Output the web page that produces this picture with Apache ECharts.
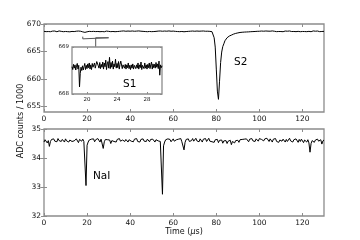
<!DOCTYPE html>
<html>
<head>
<meta charset="utf-8">
<script src="https://cdn.jsdelivr.net/npm/echarts@6.0.0/dist/echarts.min.js"></script>
<style>
  html, body { margin: 0; padding: 0; background: #fff; }
  #main { width: 360px; height: 240px; }
</style>
</head>
<body>
<div id="main"></div>
<script>
// sampling step of the two main traces (us)
const step = 0.5

// upper trace, PMT sum (ADC counts / 1000), one value every 0.5 us from 0 to 130
const topVals = [
  668.66, 668.72, 668.61, 668.69, 668.63, 668.73, 668.60, 668.68, 668.71, 668.62, 668.72, 668.64, 668.59, 668.69, 668.74, 668.62, 668.66, 668.72, 668.60, 668.68,
  668.64, 668.73, 668.61, 668.69, 668.58, 668.71, 668.65, 668.74, 668.62, 668.60, 668.69, 668.64, 668.72, 668.61, 668.68, 668.59, 668.57, 668.62, 668.48, 668.60,
  668.58, 668.63, 668.66, 668.72, 668.63, 668.74, 668.66, 668.80, 668.62, 668.70, 668.64, 668.73, 668.60, 668.68, 668.63, 668.72, 668.59, 668.66, 668.71, 668.58,
  668.66, 668.73, 668.61, 668.69, 668.64, 668.72, 668.60, 668.68, 668.63, 668.73, 668.66, 668.61, 668.71, 668.64, 668.74, 668.59, 668.68, 668.63, 668.72, 668.61,
  668.69, 668.64, 668.73, 668.60, 668.68, 668.63, 668.71, 668.66, 668.74, 668.61, 668.69, 668.59, 668.66, 668.72, 668.63, 668.68, 668.60, 668.71, 668.64, 668.73,
  668.61, 668.69, 668.63, 668.72, 668.66, 668.60, 668.71, 668.64, 668.73, 668.61, 668.68, 668.63, 668.72, 668.60, 668.69, 668.64, 668.74, 668.61, 668.68, 668.63,
  668.71, 668.60, 668.66, 668.73, 668.63, 668.69, 668.61, 668.72, 668.64, 668.68, 668.59, 668.71, 668.63, 668.74, 668.66, 668.61, 668.69, 668.64, 668.72, 668.60,
  668.68, 668.63, 668.72, 668.64, 668.69, 668.61, 668.71, 668.66, 668.73, 668.63, 668.68, 668.64, 668.69, 668.63, 668.66, 668.62, 668.60, 668.35, 667.50, 665.80,
  661.80, 657.80, 656.30, 659.60, 663.00, 664.90, 665.90, 666.40, 666.95, 667.15, 667.50, 667.55, 667.80, 667.82, 667.98, 668.02, 668.16, 668.20, 668.29, 668.31,
  668.38, 668.42, 668.46, 668.44, 668.50, 668.48, 668.53, 668.50, 668.55, 668.52, 668.57, 668.55, 668.60, 668.56, 668.62, 668.58, 668.64, 668.60, 668.67, 668.62,
  668.68, 668.63, 668.72, 668.64, 668.69, 668.61, 668.73, 668.66, 668.70, 668.60, 668.69, 668.64, 668.74, 668.63, 668.68, 668.72, 668.61, 668.69, 668.64, 668.73,
  668.63, 668.71, 668.60, 668.68, 668.72, 668.64, 668.69, 668.61, 668.73, 668.66, 668.63, 668.71, 668.64, 668.74, 668.61, 668.69, 668.66, 668.72, 668.60, 668.68,
  668.64, 668.73, 668.63, 668.69, 668.61, 668.72, 668.66, 668.71, 668.60, 668.68, 668.74, 668.64, 668.69, 668.63, 668.72, 668.66, 668.61, 668.71, 668.64, 668.69,
  668.66
]

// lower trace, NaI (ADC counts / 1000), one value every 0.5 us from 0 to 130
const naiVals = [
  34.55, 34.63, 34.58, 34.52, 34.60, 34.40, 34.57, 34.64, 34.59, 34.66, 34.58, 34.63, 34.56, 34.67, 34.60, 34.65, 34.57, 34.64, 34.61, 34.55,
  34.66, 34.59, 34.64, 34.55, 34.62, 34.67, 34.57, 34.63, 34.59, 34.54, 34.66, 34.60, 34.53, 34.64, 34.68, 34.58, 34.65, 34.57, 34.62, 33.05,
  34.44, 34.55, 34.62, 34.57, 34.65, 34.60, 34.66, 34.56, 34.63, 34.58, 34.67, 34.61, 34.55, 34.65, 34.59, 34.33, 34.56, 34.64, 34.58, 34.63,
  34.57, 34.62, 34.50, 34.60, 34.65, 34.57, 34.63, 34.55, 34.64, 34.59, 34.67, 34.58, 34.54, 34.62, 34.66, 34.57, 34.64, 34.60, 34.55, 34.63,
  34.66, 34.58, 34.63, 34.56, 34.65, 34.60, 34.67, 34.57, 34.62, 34.55, 34.64, 34.59, 34.66, 34.58, 34.63, 34.57, 34.65, 34.60, 34.56, 34.64,
  34.58, 34.65, 34.60, 34.55, 34.63, 34.67, 34.59, 34.64, 34.57, 34.62, 32.75, 34.42, 34.55, 34.63, 34.58, 34.66, 34.60, 34.64, 34.56, 34.62,
  34.66, 34.58, 34.53, 34.63, 34.57, 34.65, 34.60, 34.67, 34.56, 34.62, 34.28, 34.54, 34.64, 34.59, 34.66, 34.57, 34.63, 34.60, 34.67, 34.58,
  34.63, 34.68, 34.59, 34.64, 34.56, 34.66, 34.61, 34.55, 34.65, 34.59, 34.67, 34.57, 34.63, 34.68, 34.58, 34.64, 34.56, 34.62, 34.54, 34.63,
  34.57, 34.64, 34.53, 34.61, 34.55, 34.62, 34.51, 34.59, 34.54, 34.60, 34.50, 34.58, 34.53, 34.61, 34.46, 34.57, 34.62, 34.52, 34.60, 34.55,
  34.61, 34.54, 34.63, 34.57, 34.64, 34.58, 34.65, 34.59, 34.66, 34.60, 34.56, 34.65, 34.60, 34.67, 34.59, 34.63, 34.57, 34.66, 34.62, 34.58,
  34.67, 34.61, 34.64, 34.69, 34.59, 34.66, 34.60, 34.68, 34.62, 34.57, 34.66, 34.61, 34.55, 34.65, 34.59, 34.67, 34.57, 34.63, 34.54, 34.62,
  34.66, 34.58, 34.65, 34.59, 34.55, 34.64, 34.57, 34.63, 34.68, 34.59, 34.65, 34.55, 34.63, 34.58, 34.66, 34.60, 34.54, 34.64, 34.57, 34.65,
  34.60, 34.53, 34.62, 34.65, 34.55, 34.63, 34.52, 34.20, 34.50, 34.60, 34.64, 34.54, 34.62, 34.56, 34.65, 34.58, 34.52, 34.63, 34.48, 34.59,
  34.62
]

// inset (S1 region), one value every 0.1 us from 18 to 30
const insetStart = 18
const insetStep = 0.1
const insetVals = [
  668.58, 668.52, 668.63, 668.55, 668.62, 668.51, 668.60, 668.65, 668.53, 668.61,
  668.15, 668.44, 668.57, 668.50, 668.60, 668.51, 668.58, 668.65, 668.52, 668.61,
  668.54, 668.64, 668.56, 668.66, 668.53, 668.62, 668.52, 668.65, 668.57, 668.53,
  668.66, 668.55, 668.62, 668.69, 668.72, 668.60, 668.55, 668.67, 668.54, 668.63,
  668.57, 668.68, 668.53, 668.66, 668.58, 668.72, 668.52, 668.64, 668.69, 668.55,
  668.78, 668.54, 668.67, 668.57, 668.70, 668.53, 668.64, 668.58, 668.74, 668.55,
  668.65, 668.56, 668.69, 668.53, 668.63, 668.70, 668.66, 668.54, 668.62, 668.65,
  668.55, 668.63, 668.53, 668.62, 668.56, 668.66, 668.54, 668.61, 668.52, 668.62,
  668.55, 668.64, 668.53, 668.61, 668.63, 668.54, 668.62, 668.55, 668.66, 668.53,
  668.62, 668.56, 668.68, 668.52, 668.61, 668.63, 668.54, 668.66, 668.55, 668.62,
  668.53, 668.63, 668.56, 668.66, 668.54, 668.62, 668.68, 668.53, 668.64, 668.56,
  668.63, 668.55, 668.67, 668.57, 668.64, 668.54, 668.70, 668.40, 668.62, 668.56,
  668.60
]

// tick values
const timeTicks = [0, 20, 40, 60, 80, 100, 120]
const topTicks = [655, 660, 665, 670]
const naiTicks = [32, 33, 34, 35]
const insetXTicks = [20, 24, 28]
const insetYTicks = [668, 669]

// bracket marking the zoomed range in the upper panel
const zoomRange = [18, 30]
const bracketLevel = 667.5
const stemBottom = 665.8

const frameColor = '#8c8c8c'
const textColor = '#111'
const font = 'DejaVu Sans'

const topData = topVals.map((v, i) => [i * step, v])
const naiData = naiVals.map((v, i) => [i * step, v])
const insetData = insetVals.map((v, i) => [insetStart + i * insetStep, v])

const mid = (zoomRange[0] + zoomRange[1]) / 2
const bracketData = [
  [zoomRange[0], bracketLevel + 0.2], [zoomRange[0], bracketLevel - 0.2], [zoomRange[0], bracketLevel],
  [zoomRange[1], bracketLevel], [zoomRange[1], bracketLevel + 0.2], [zoomRange[1], bracketLevel - 0.2],
  [zoomRange[1], bracketLevel], [mid, bracketLevel], [mid, stemBottom]
]

function xAx(grid, min, max, ticks, labels, fontSize, tickLen) {
  return {
    type: 'value', gridIndex: grid, min: min, max: max,
    position: labels ? 'bottom' : 'top',
    axisLine: { show: false },
    splitLine: { show: false },
    axisTick: { show: true, inside: true, length: tickLen, customValues: ticks,
      lineStyle: { color: frameColor, width: 1 } },
    axisLabel: { show: labels, customValues: ticks, margin: 3, fontSize: fontSize,
      fontFamily: font, color: textColor },
  }
}
function yAx(grid, min, max, ticks, labels, fontSize, tickLen) {
  return {
    type: 'value', gridIndex: grid, min: min, max: max,
    position: labels ? 'left' : 'right',
    axisLine: { show: false },
    splitLine: { show: false },
    axisTick: { show: true, inside: true, length: tickLen, customValues: ticks,
      lineStyle: { color: frameColor, width: 1 } },
    axisLabel: { show: labels, customValues: ticks, margin: 3, fontSize: fontSize,
      fontFamily: font, color: textColor },
  }
}

const lineBase = {
  type: 'line', symbol: 'none', showSymbol: false, silent: true,
  animation: false,
  lineStyle: { color: '#000', width: 1 },
}

const option = {
  animation: false,
  backgroundColor: '#fff',
  grid: [
    { left: 44, top: 24, width: 280, height: 88, show: true, borderColor: frameColor, borderWidth: 1.3, backgroundColor: '#fff' },
    { left: 44, top: 129, width: 280, height: 87, show: true, borderColor: frameColor, borderWidth: 1.3, backgroundColor: '#fff' },
    { left: 72, top: 47, width: 90, height: 47, show: true, borderColor: frameColor, borderWidth: 1.3, backgroundColor: '#fff', z: 10 },
  ],
  xAxis: [
    xAx(0, 0, 130, timeTicks, true, 7.5, 3),
    xAx(0, 0, 130, timeTicks, false, 7.5, 3),
    xAx(1, 0, 130, timeTicks, true, 7.5, 3),
    xAx(1, 0, 130, timeTicks, false, 7.5, 3),
    Object.assign(xAx(2, 18, 30, insetXTicks, true, 5.5, 2), { z: 12 }),
    Object.assign(xAx(2, 18, 30, insetXTicks, false, 5.5, 2), { z: 12 }),
  ],
  yAxis: [
    yAx(0, 654, 670, topTicks, true, 7.5, 3),
    yAx(0, 654, 670, topTicks, false, 7.5, 3),
    yAx(1, 32, 35, naiTicks, true, 7.5, 3),
    yAx(1, 32, 35, naiTicks, false, 7.5, 3),
    Object.assign(yAx(2, 668, 669, insetYTicks, true, 5.5, 2), { z: 12 }),
    Object.assign(yAx(2, 668, 669, insetYTicks, false, 5.5, 2), { z: 12 }),
  ],
  series: [
    Object.assign({}, lineBase, { name: 'PMT', xAxisIndex: 0, yAxisIndex: 0, data: topData, z: 2 }),
    Object.assign({}, lineBase, { name: 'bracket', xAxisIndex: 0, yAxisIndex: 0, data: bracketData, z: 2,
      lineStyle: { color: '#555', width: 1 } }),
    Object.assign({}, lineBase, { name: 'NaI', xAxisIndex: 2, yAxisIndex: 2, data: naiData, z: 2 }),
    Object.assign({}, lineBase, { name: 'S1', xAxisIndex: 4, yAxisIndex: 4, data: insetData, z: 11 }),
  ],
  graphic: [
    { type: 'text', left: 234, top: 57, z: 20, style: { text: 'S2', fontSize: 10.5, fontFamily: font, fill: '#000' } },
    { type: 'text', left: 123, top: 79, z: 20, style: { text: 'S1', fontSize: 10.5, fontFamily: font, fill: '#000' } },
    { type: 'text', left: 93, top: 171, z: 20, style: { text: 'NaI', fontSize: 10.5, fontFamily: font, fill: '#000' } },
    { type: 'text', x: 21, y: 121, rotation: Math.PI / 2, z: 20,
      style: { text: 'ADC counts / 1000', fontSize: 8, fontFamily: font, fill: textColor, align: 'center', verticalAlign: 'middle' } },
    { type: 'text', x: 184, y: 232, z: 20,
      style: { text: 'Time ({i|μ}s)', fontSize: 8, fontFamily: font, fill: textColor, align: 'center', verticalAlign: 'middle',
        rich: { i: { fontStyle: 'italic', fontSize: 8, fontFamily: font, fill: textColor } } } },
  ],
}

let myChart = echarts.init(document.getElementById('main'))
myChart.setOption(option)
</script>
</body>
</html>
